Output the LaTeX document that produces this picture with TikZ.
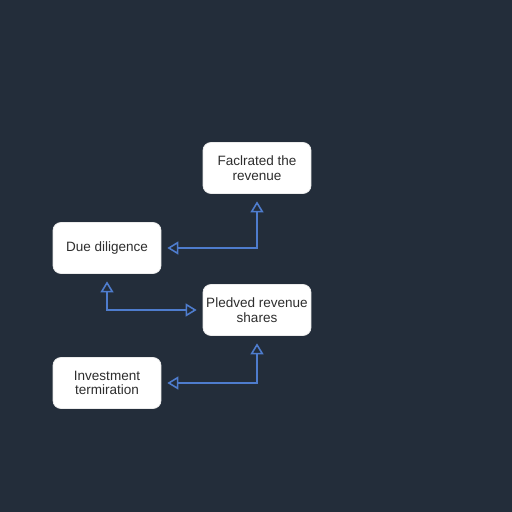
\documentclass[tikz,border=0pt]{standalone}
\usepackage{fontspec}
\setmainfont{Liberation Sans}
\usetikzlibrary{arrows.meta}
\definecolor{bgdark}{RGB}{35,45,58}
\definecolor{linkblue}{RGB}{78,124,205}
\definecolor{txtgray}{RGB}{45,45,45}
\begin{document}
\begin{tikzpicture}[
    x=0.02cm, y=0.02cm,
    every node/.style={font=\fontsize{7.7}{8.2}\selectfont, text=txtgray},
    card/.style={rectangle, rounded corners=4.5pt, fill=white, draw=black!8,
      minimum width=2.16cm, minimum height=1.02cm, align=center, inner sep=1pt},
    link/.style={draw=linkblue, line width=0.9pt,
      {Triangle[open, length=0.22cm, width=0.26cm]}-{Triangle[open, length=0.22cm, width=0.26cm]},
      shorten <=0.15cm, shorten >=0.12cm},
]
% background
\fill[bgdark] (0,0) rectangle (512,512);
\useasboundingbox (0,0) rectangle (512,512);
% cards
\node[card] (facl)  at (257,344) {Faclrated the\\revenue};
\node[card] (due)   at (107,264) {Due diligence};
\node[card] (pled)  at (257,202) {Pledved revenue\\shares};
\node[card] (invt)  at (107,129) {Investment\\termiration};
% connectors
\draw[link] (facl.south) |- (due.east);
\draw[link] (due.south) |- (pled.west);
\draw[link] (pled.south) |- (invt.east);
\end{tikzpicture}
\end{document}
